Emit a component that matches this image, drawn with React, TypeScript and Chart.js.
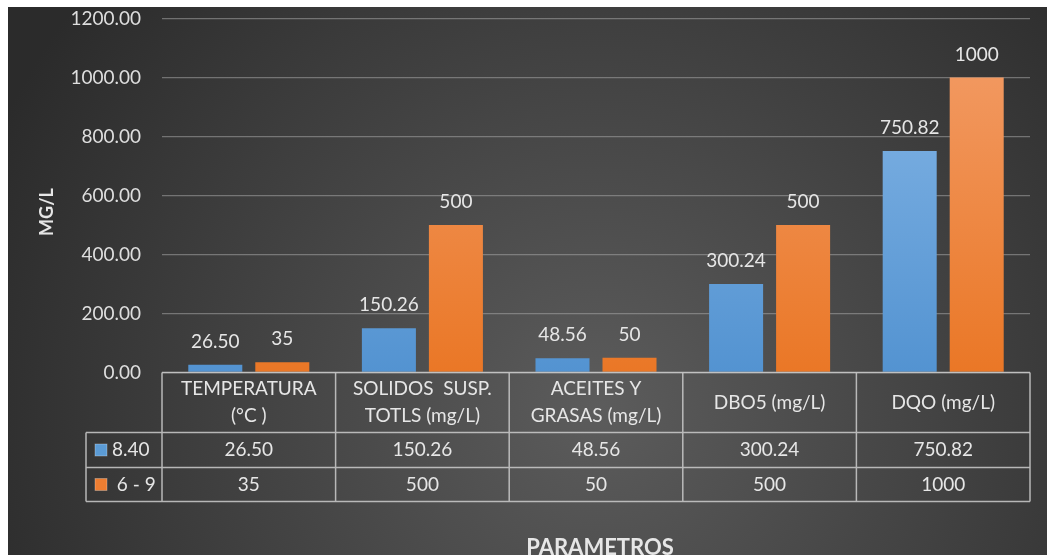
import React, { useEffect, useRef } from "react";
import { Chart, registerables } from "chart.js";

Chart.register(...registerables);

const categoryLines: string[][] = [
  ["TEMPERATURA", "(°C )"],
  ["SOLIDOS  SUSP.", "TOTLS (mg/L)"],
  ["ACEITES Y", "GRASAS (mg/L)"],
  ["DBO5 (mg/L)"],
  ["DQO (mg/L)"],
];
const seriesNames = ["8.40", " 6 - 9"];
const measured = [26.5, 150.26, 48.56, 300.24, 750.82];
const limits = [35, 500, 50, 500, 1000];
const measuredLabels = ["26.50", "150.26", "48.56", "300.24", "750.82"];
const limitLabels = ["35", "500", "50", "500", "1000"];
const yMin = 0;
const yMax = 1200;
const yStep = 200;
const yTitle = "MG/L";
const xTitle = "PARAMETROS";

const FONT = "Lato, 'Open Sans', sans-serif";
const TEXT = "#e6e6e6";
const W = 1039;
const H = 548;

function grad(ctx: any, top: string, bottom: string) {
  const chart = ctx.chart;
  const area = chart.chartArea;
  if (!area) return bottom;
  const g = chart.ctx.createLinearGradient(0, area.top, 0, area.bottom);
  g.addColorStop(0, top);
  g.addColorStop(1, bottom);
  return g;
}

const bgPlugin = {
  id: "bgPlugin",
  beforeDraw(chart: any) {
    const c = chart.ctx;
    c.save();
    const g = c.createRadialGradient(590, 400, 0, 590, 400, 660);
    g.addColorStop(0, "#5c5c5c");
    g.addColorStop(1, "#2b2b2b");
    c.fillStyle = g;
    c.fillRect(0, 0, chart.width, chart.height);
    c.restore();
  },
};

const overlayPlugin = {
  id: "overlayPlugin",
  afterDraw(chart: any) {
    const c = chart.ctx;
    const area = chart.chartArea;
    c.save();
    // data labels
    c.font = `19px ${FONT}`;
    c.fillStyle = TEXT;
    c.textAlign = "center";
    c.textBaseline = "alphabetic";
    const labelSets = [measuredLabels, limitLabels];
    chart.data.datasets.forEach((ds: any, di: number) => {
      const meta = chart.getDatasetMeta(di);
      meta.data.forEach((bar: any, i: number) => {
        c.fillText(labelSets[di][i], bar.x, bar.y - 17);
      });
    });

    // data table
    const left = area.left;
    const right = area.right;
    const colW = (right - left) / categoryLines.length;
    const top = area.bottom;
    const headerBottom = top + 60;
    const row1Bottom = headerBottom + 35;
    const row2Bottom = row1Bottom + 34;
    const legendLeft = 78;

    c.strokeStyle = "rgba(205,205,205,0.85)";
    c.lineWidth = 1.5;
    c.beginPath();
    c.moveTo(left, top);
    c.lineTo(right, top);
    c.moveTo(legendLeft, headerBottom);
    c.lineTo(right, headerBottom);
    c.moveTo(legendLeft, row1Bottom);
    c.lineTo(right, row1Bottom);
    c.moveTo(legendLeft, row2Bottom);
    c.lineTo(right, row2Bottom);
    c.moveTo(legendLeft, headerBottom);
    c.lineTo(legendLeft, row2Bottom);
    for (let i = 0; i <= categoryLines.length; i++) {
      const x = left + i * colW;
      c.moveTo(x, top);
      c.lineTo(x, row2Bottom);
    }
    c.stroke();

    c.font = `19px ${FONT}`;
    c.fillStyle = TEXT;
    c.textAlign = "center";
    c.textBaseline = "middle";
    const headMid = (top + headerBottom) / 2;
    categoryLines.forEach((lines, i) => {
      const cx = left + (i + 0.5) * colW;
      if (lines.length === 1) {
        c.fillText(lines[0], cx, headMid);
      } else {
        c.fillText(lines[0], cx, headMid - 13.5);
        c.fillText(lines[1], cx, headMid + 13.5);
      }
    });
    const r1 = (headerBottom + row1Bottom) / 2;
    const r2 = (row1Bottom + row2Bottom) / 2;
    const rows = [measuredLabels, limitLabels];
    const rowMids = [r1, r2];
    rows.forEach((vals, ri) => {
      vals.forEach((v, i) => {
        c.fillText(v, left + (i + 0.5) * colW, rowMids[ri]);
      });
    });
    const keyColors = ["#5b9bd5", "#ed7d31"];
    rowMids.forEach((m, ri) => {
      c.fillStyle = keyColors[ri];
      c.fillRect(87, m - 6, 12, 12);
      c.strokeStyle = "rgba(255,255,255,0.35)";
      c.lineWidth = 0.8;
      c.strokeRect(87, m - 6, 12, 12);
      c.fillStyle = TEXT;
      c.textAlign = "left";
      c.fillText(seriesNames[ri], 104, m);
    });

    // axis titles
    c.font = `bold 22px ${FONT}`;
    c.fillStyle = TEXT;
    c.textAlign = "center";
    c.textBaseline = "alphabetic";
    c.fillText(xTitle, (left + right) / 2 + 4, 548);

    c.save();
    c.translate(39, 205);
    c.rotate(-Math.PI / 2);
    c.font = `bold 18px ${FONT}`;
    c.textBaseline = "middle";
    c.fillText(yTitle, 0, 0);
    c.restore();

    c.restore();
  },
};

export default function App() {
  const ref = useRef<HTMLCanvasElement | null>(null);
  useEffect(() => {
    if (!ref.current) return;
    const chart = new Chart(ref.current, {
      type: "bar",
      data: {
        labels: categoryLines.map((l) => l.join(" ")),
        datasets: [
          {
            label: seriesNames[0],
            data: measured,
            backgroundColor: (ctx: any) => grad(ctx, "#88b8e7", "#5393d1"),
            categoryPercentage: 0.772,
            barPercentage: 0.806,
            borderWidth: 0,
          },
          {
            label: seriesNames[1],
            data: limits,
            backgroundColor: (ctx: any) => grad(ctx, "#f39e6a", "#ea7726"),
            categoryPercentage: 0.772,
            barPercentage: 0.806,
            borderWidth: 0,
          },
        ],
      },
      options: {
        animation: false,
        responsive: false,
        devicePixelRatio: 1,
        layout: { padding: { top: 11.5, bottom: 182.5, left: 0, right: 17 } },
        plugins: {
          legend: { display: false },
          tooltip: { enabled: false },
          title: { display: false },
        },
        scales: {
          x: { display: false },
          y: {
            min: yMin,
            max: yMax,
            ticks: {
              stepSize: yStep,
              padding: 21,
              color: "#dedede",
              font: { family: FONT, size: 19 },
              callback: (v: any) => Number(v).toFixed(2),
            },
            grid: { color: "rgba(165,165,165,0.55)", lineWidth: 1.3, drawTicks: false },
            border: { display: false },
            afterFit: (s: any) => {
              s.width = 154;
              s.paddingTop = 0;
              s.paddingBottom = 0;
            },
          },
        },
      },
      plugins: [bgPlugin, overlayPlugin],
    } as any);
    return () => chart.destroy();
  }, []);
  return (
    <div style={{ position: "fixed", left: 8, top: 7, width: W, height: H }}>
      <canvas ref={ref} width={W} height={H} style={{ display: "block" }} />
    </div>
  );
}
